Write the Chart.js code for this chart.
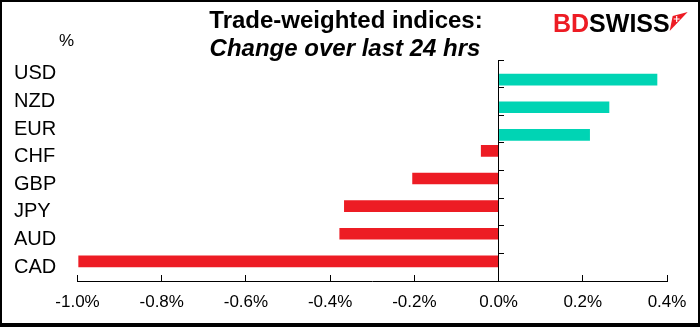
<!DOCTYPE html>
<html>
<head>
<meta charset="utf-8">
<script src="https://cdn.jsdelivr.net/npm/chart.js@4.4.0/dist/chart.umd.min.js"></script>
<style>
  html, body { margin: 0; padding: 0; background: #fff; }
  #wrap { width: 700px; height: 327px; }
</style>
</head>
<body>
<div id="wrap"><canvas id="chart" width="700" height="327"></canvas></div>
<script>
// data
const currencies = ['USD', 'NZD', 'EUR', 'CHF', 'GBP', 'JPY', 'AUD', 'CAD'];
const changes = [0.377, 0.263, 0.217, -0.042, -0.205, -0.367, -0.378, -0.998];
const xTickValues = [-1.0, -0.8, -0.6, -0.4, -0.2, 0.0, 0.2, 0.4];
const titleLines = ['Trade-weighted indices:', 'Change over last 24 hrs'];
const unitLabel = '%';

const rising = changes.map(v => (v >= 0 ? v : null));
const falling = changes.map(v => (v < 0 ? v : null));

const FONT = '"Liberation Sans", Arial, sans-serif';
const RED = '#ED1C24';
const TEAL = '#00D4B4';

// title, unit, logo and frame
const decorPlugin = {
  id: 'decor',
  beforeDraw(chart) {
    const ctx = chart.ctx;
    ctx.save();
    ctx.fillStyle = '#fff';
    ctx.fillRect(0, 0, chart.width, chart.height);
    ctx.restore();
  },
  afterDraw(chart) {
    const ctx = chart.ctx;
    ctx.save();
    ctx.fillStyle = '#000';
    ctx.textAlign = 'center';
    ctx.textBaseline = 'alphabetic';
    ctx.font = 'bold 24px ' + FONT;
    ctx.fillText(titleLines[0], 346, 28);
    ctx.font = 'italic bold 24px ' + FONT;
    ctx.fillText(titleLines[1], 345, 56);

    ctx.font = '17px ' + FONT;
    ctx.textAlign = 'left';
    ctx.fillText(unitLabel, 59, 46);

    // logo
    ctx.font = 'bold 25px ' + FONT;
    let x = 553;
    ctx.fillStyle = RED;
    ctx.fillText('BD', x, 32);
    x += ctx.measureText('BD').width;
    ctx.fillStyle = '#000';
    ctx.fillText('SWISS', x, 32);
    x += ctx.measureText('SWISS').width;
    ctx.fillStyle = RED;
    ctx.beginPath();
    ctx.moveTo(x, 31);
    ctx.lineTo(x + 3, 16);
    ctx.lineTo(x + 18, 12);
    ctx.closePath();
    ctx.fill();
    ctx.strokeStyle = '#fff';
    ctx.lineWidth = 1.2;
    ctx.beginPath();
    ctx.moveTo(x + 7, 16); ctx.lineTo(x + 7, 22);
    ctx.moveTo(x + 4, 19); ctx.lineTo(x + 10, 19);
    ctx.stroke();

    // frame
    ctx.strokeStyle = '#000';
    ctx.lineWidth = 2;
    ctx.strokeRect(1, 1, chart.width - 2, chart.height - 2);
    ctx.fillStyle = '#000';
    ctx.fillRect(0, chart.height - 4, chart.width, 4);
    ctx.restore();
  }
};

new Chart(document.getElementById('chart'), {
  type: 'bar',
  data: {
    labels: currencies,
    datasets: [
      { label: 'down', data: falling, backgroundColor: RED },
      { label: 'up', data: rising, backgroundColor: TEAL }
    ]
  },
  options: {
    indexAxis: 'y',
    responsive: false,
    animation: false,
    devicePixelRatio: 1,
    categoryPercentage: 0.845,
    barPercentage: 1,
    layout: { padding: { left: 14, top: 60, right: 33, bottom: 0 } },
    plugins: { legend: { display: false }, tooltip: { enabled: false } },
    scales: {
      x: {
        type: 'linear',
        min: -1.0,
        max: 0.4,
        afterBuildTicks: scale => { scale.ticks = xTickValues.map(v => ({ value: v })); },
        afterFit: scale => {
          scale.height = 46;
          scale.paddingLeft = 0;
          scale.paddingRight = 0;
        },
        ticks: {
          color: '#000',
          padding: 17,
          font: { family: FONT, size: 17 },
          callback: v => v.toFixed(1) + '%'
        },
        grid: { drawOnChartArea: false, drawTicks: true, tickLength: -6, color: '#000' },
        border: { display: true, color: '#000', width: 1 }
      },
      y: {
        type: 'category',
        position: 'left',
        afterFit: scale => { scale.width = 63.5; },
        ticks: {
          color: '#000',
          crossAlign: 'far',
          autoSkip: false,
          padding: 0,
          font: { family: FONT, size: 20 }
        },
        grid: { display: false },
        border: { display: false }
      },
      y2: {
        type: 'category',
        position: { x: 0 },
        offset: true,
        ticks: { display: false },
        grid: { offset: true, drawOnChartArea: false, drawTicks: true, tickLength: -6, color: '#000' },
        border: { display: true, color: '#000', width: 1 }
      }
    }
  },
  plugins: [decorPlugin]
});
</script>
</body>
</html>
